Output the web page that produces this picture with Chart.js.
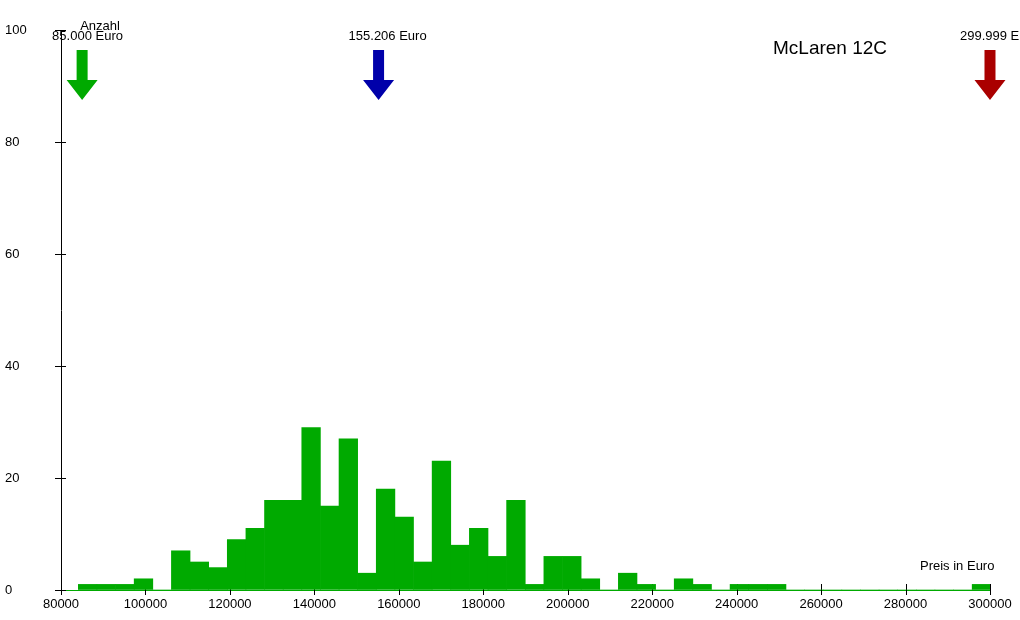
<!DOCTYPE html>
<html>
<head>
<meta charset="utf-8">
<script src="https://cdn.jsdelivr.net/npm/chart.js@4/dist/chart.umd.min.js"></script>
<style>
  html, body { margin: 0; padding: 0; background: #ffffff; }
  #wrap { width: 1020px; height: 620px; position: relative; }
</style>
</head>
<body>
<div id="wrap"><canvas id="c" width="1020" height="620"></canvas></div>
<script>
// ---- data ----
const BIN_START = 84100;     // left edge of first histogram bin (Euro)
const BIN_WIDTH = 4410;      // histogram bin width (Euro)
const counts = [1,1,1,2,0, 7,5,4,9,11, 16,16,29,15,27, 3,18,13,5,23, 8,11,6,16,1,
                6,6,2,0,3, 1,0,2,1,0, 1,1,1,0,0, 0,0,0,0,0, 0,0,0,1];
const xTickMin = 80000, xTickMax = 300000, xTickStep = 20000;
const yTickMin = 0, yTickMax = 100, yTickStep = 20;
const markerValues = [85000, 155206, 299999];
const markerLabels = ['85.000 Euro', '155.206 Euro', '299.999 Euro'];
const markerColors = ['#00AA00', '#0000AA', '#AA0000'];
const chartTitle = 'McLaren 12C';
const yTitle = 'Anzahl';
const xTitle = 'Preis in Euro';

const barData = counts.map((c, i) => ({ x: BIN_START + BIN_WIDTH * (i + 0.5), y: c }));

const FONT = '"Liberation Sans", Arial, sans-serif';

const decorPlugin = {
  id: 'decor',
  beforeDatasetsDraw(chart) {
    const { ctx, scales: { x } , chartArea } = chart;
    ctx.save();
    ctx.strokeStyle = '#000';
    ctx.lineWidth = 1;
    x.ticks.forEach(t => {
      const px = Math.round(x.getPixelForValue(t.value)) + 0.5;
      ctx.beginPath();
      ctx.moveTo(px, chartArea.bottom - 6);
      ctx.lineTo(px, chartArea.bottom + 5);
      ctx.stroke();
    });
    ctx.restore();
  },
  afterDraw(chart) {
    const { ctx, scales: { x, y }, chartArea } = chart;
    ctx.save();
    // y ticks crossing the axis
    ctx.strokeStyle = '#000';
    ctx.lineWidth = 1;
    y.ticks.forEach(t => {
      const py = Math.round(y.getPixelForValue(t.value)) + 0.5;
      ctx.beginPath();
      ctx.moveTo(chartArea.left - 6, py);
      ctx.lineTo(chartArea.left + 5, py);
      ctx.stroke();
    });
    // markers (arrows + labels)
    ctx.font = '13px ' + FONT;
    ctx.textBaseline = 'middle';
    ctx.textAlign = 'left';
    markerValues.forEach((v, i) => {
      const px = x.getPixelForValue(v);
      ctx.fillStyle = markerColors[i];
      ctx.beginPath();
      ctx.moveTo(px - 5.5, 50);
      ctx.lineTo(px + 5.5, 50);
      ctx.lineTo(px + 5.5, 80);
      ctx.lineTo(px + 15.5, 80);
      ctx.lineTo(px, 100);
      ctx.lineTo(px - 15.5, 80);
      ctx.lineTo(px - 5.5, 80);
      ctx.closePath();
      ctx.fill();
      ctx.fillStyle = '#000';
      ctx.fillText(markerLabels[i], px - 30, 36);
    });
    // axis titles
    ctx.fillStyle = '#000';
    ctx.textAlign = 'center';
    ctx.fillText(yTitle, 100, 26);
    ctx.textAlign = 'left';
    ctx.fillText(xTitle, 920, 566);
    // chart title
    ctx.font = '19px ' + FONT;
    ctx.fillText(chartTitle, 773, 49);
    ctx.restore();
  }
};

new Chart(document.getElementById('c'), {
  type: 'bar',
  data: {
    datasets: [{
      data: barData,
      backgroundColor: '#00AA00',
      borderWidth: 0,
      barPercentage: 1,
      categoryPercentage: 1
    }]
  },
  options: {
    responsive: false,
    devicePixelRatio: 1,
    animation: false,
    layout: { padding: { left: 5, right: 30, top: 30, bottom: 0 } },
    plugins: { legend: { display: false }, tooltip: { enabled: false }, title: { display: false } },
    scales: {
      x: {
        type: 'linear',
        offset: false,
        min: xTickMin,
        max: xTickMax,
        grid: { display: true, drawOnChartArea: false, drawTicks: false, offset: false },
        border: { display: true, color: '#00AA00', width: 1 },
        ticks: {
          stepSize: xTickStep,
          autoSkip: false,
          maxRotation: 0,
          padding: 7,
          color: '#000',
          font: { family: FONT, size: 13 },
          callback: v => String(v)
        },
        afterFit(s) { s.height = 30; }
      },
      y: {
        min: yTickMin,
        max: yTickMax,
        grid: { display: true, drawOnChartArea: false, drawTicks: false },
        border: { display: true, color: '#000', width: 1 },
        ticks: {
          stepSize: yTickStep,
          crossAlign: 'far',
          padding: 0,
          color: '#000',
          font: { family: FONT, size: 13 },
          callback: v => String(v)
        },
        afterFit(s) { s.width = 56; }
      }
    }
  },
  plugins: [decorPlugin]
});
</script>
</body>
</html>
